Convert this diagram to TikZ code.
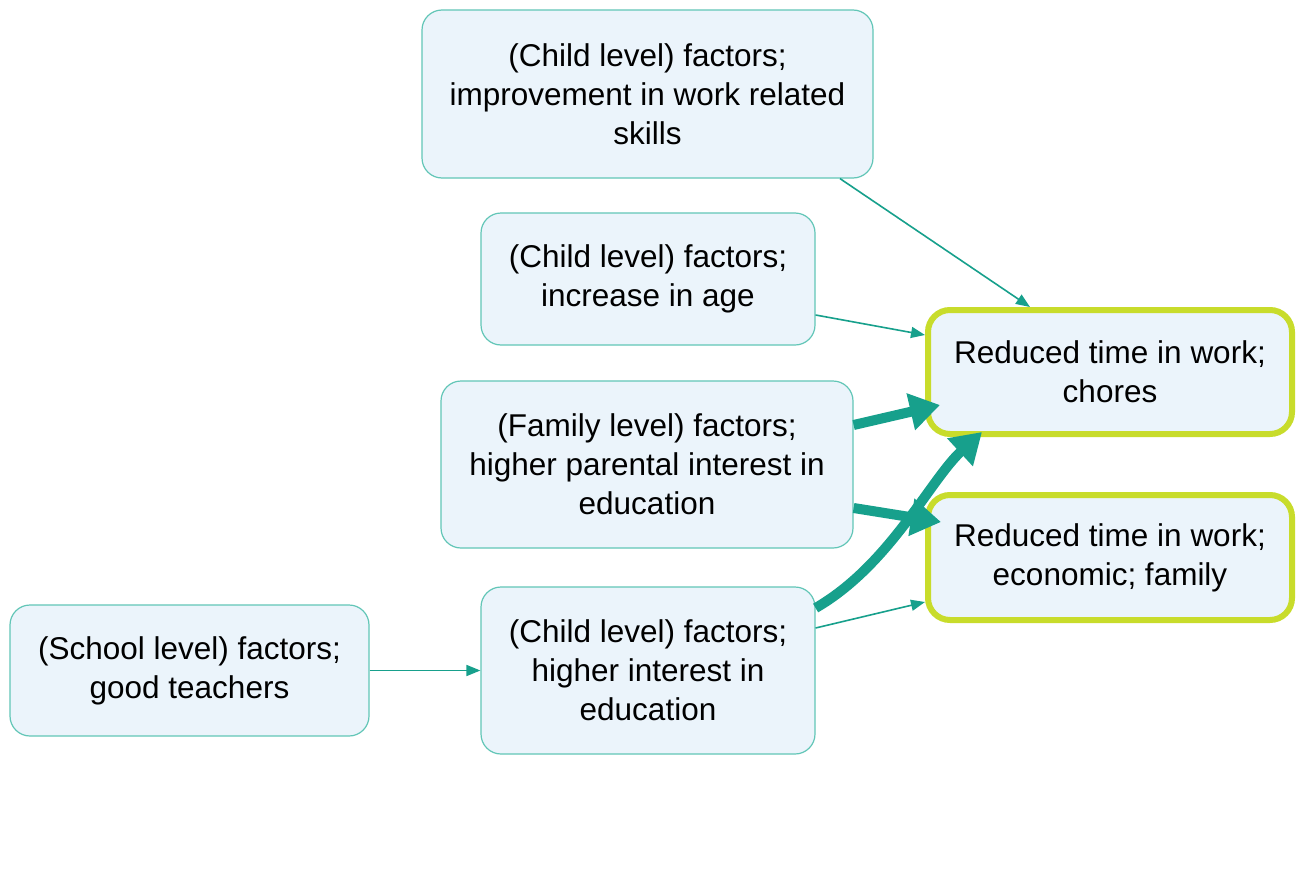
\documentclass[tikz,border=0pt]{standalone}
\usepackage{fontspec}
\setmainfont{Liberation Sans}
\usetikzlibrary{arrows.meta}
\definecolor{boxfill}{HTML}{EBF4FB}
\definecolor{boxline}{HTML}{62C6B7}
\definecolor{arrowc}{HTML}{17A08C}
\definecolor{outc}{HTML}{C8DC2B}
\tikzset{
  factor/.style={draw=boxline, line width=1.2pt, fill=boxfill, rounded corners=20pt,
    align=center, inner sep=0pt, font=\fontsize{31.5}{39}\selectfont},
  outcome/.style={draw=outc, line width=6pt, fill=boxfill, rounded corners=22pt,
    align=center, inner sep=0pt, font=\fontsize{31.5}{39}\selectfont},
  thin/.style={draw=arrowc, line width=1.6pt, -{Triangle[length=14pt,width=11pt]}},
  thick/.style={draw=arrowc, line width=10pt, -{Triangle[length=30pt,width=36pt]}},
}
\begin{document}
\begin{tikzpicture}[x=1pt,y=-1pt]
\useasboundingbox (0,0) rectangle (1299,886);
\fill[white] (0,0) rectangle (1299,886);
\node[factor, minimum width=451pt, minimum height=168pt] (top) at (647.5,94)
  {(Child level) factors;\\improvement in work related\\skills};
\node[factor, minimum width=334pt, minimum height=132pt] (age) at (648,279)
  {(Child level) factors;\\increase in age};
\node[factor, minimum width=412pt, minimum height=167pt] (family) at (647,464.5)
  {(Family level) factors;\\higher parental interest in\\education};
\node[factor, minimum width=359pt, minimum height=131pt] (school) at (189.5,670.5)
  {(School level) factors;\\good teachers};
\node[factor, minimum width=334pt, minimum height=167pt] (child) at (648,670.5)
  {(Child level) factors;\\higher interest in\\education};
\node[outcome, minimum width=364pt, minimum height=124pt, outer sep=0pt] (chores) at (1110,372)
  {Reduced time in work;\\chores};
\node[outcome, minimum width=364pt, minimum height=125pt, outer sep=0pt] (econ) at (1110,557.5)
  {Reduced time in work;\\economic; family};

\draw[thin] ([xshift=192.5pt]top.south) -- ([xshift=-80pt,yshift=3pt]chores.north);
\draw[thin] ([yshift=-36pt]age.east) -- ([xshift=-3pt,yshift=37pt]chores.west);
\draw[thin] ([yshift=42.5pt]child.east) -- ([xshift=-3pt,yshift=-44.5pt]econ.west);
\draw[thin] (school.east) -- (child.west);
\draw[thick] ([yshift=39.5pt]family.east) -- ([xshift=12pt,yshift=-33pt]chores.west);
\draw[thick] ([yshift=-43.5pt]family.east) -- ([xshift=13pt,yshift=35.5pt]econ.west);
\draw[thick] ([yshift=62.5pt]child.east) .. controls (890,565) and (930,480) .. ([xshift=-128pt,yshift=2pt]chores.south);
\end{tikzpicture}
\end{document}
